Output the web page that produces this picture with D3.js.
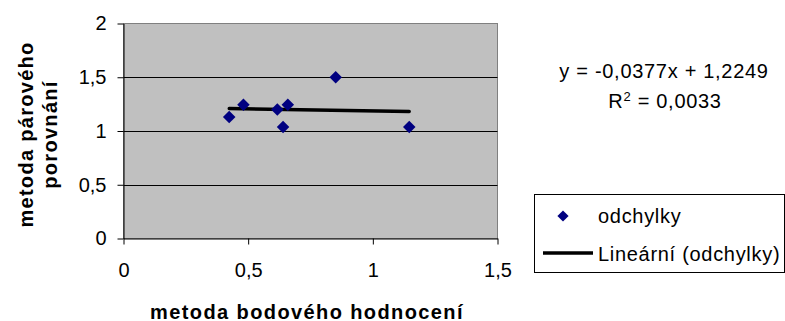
<!DOCTYPE html>
<html>
<head>
<meta charset="utf-8">
<script src="https://cdn.jsdelivr.net/npm/d3@7"></script>
<style>
  html, body { margin: 0; padding: 0; background: #fff; }
  svg { display: block; font-family: "Liberation Sans", Arial, sans-serif; }
</style>
</head>
<body>
<svg id="chart" width="785" height="321"></svg>
<script>
// Deviation pairs: point-rating method (x) vs. pairwise-comparison method (y)
const seriesName = "odchylky";
const trendName = "Lineární (odchylky)";
const xValues = [0.424, 0.481, 0.617, 0.659, 0.640, 0.851, 1.146];
const yValues = [1.13, 1.244, 1.20, 1.244, 1.037, 1.50, 1.037];
const xTicks = [0, 0.5, 1, 1.5];
const yTicks = [0, 0.5, 1, 1.5, 2];
const trendSlope = -0.0377;
const trendIntercept = 1.2249;
const rSquared = 0.0033;
const xTitle = "metoda bodového hodnocení";
const yTitleLines = ["metoda párového", "porovnání"];

const fmt = v => String(v).replace(".", ",");
const fmtCoef = v => v.toFixed(4).replace(".", ",");

const svg = d3.select("#chart");
const plot = { left: 123.5, top: 23.5, right: 497.5, bottom: 238.5 };

const x = d3.scaleLinear().domain([0, 1.5]).range([plot.left, plot.right]);
const y = d3.scaleLinear().domain([0, 2]).range([plot.bottom, plot.top]);

// plot area
svg.append("rect")
  .attr("x", plot.left).attr("y", plot.top)
  .attr("width", plot.right - plot.left).attr("height", plot.bottom - plot.top)
  .attr("fill", "#c0c0c0").attr("stroke", "#808080").attr("stroke-width", 1);

// horizontal gridlines
svg.append("g").selectAll("line")
  .data(yTicks.filter(t => t > 0 && t < 2))
  .join("line")
  .attr("x1", plot.left).attr("x2", plot.right)
  .attr("y1", d => Math.round(y(d)) + 0.5).attr("y2", d => Math.round(y(d)) + 0.5)
  .attr("stroke", "#000").attr("stroke-width", 1);

// axes
const xAxis = d3.axisBottom(x).tickValues(xTicks).tickFormat(fmt).tickSizeInner(6).tickSizeOuter(0).tickPadding(10);
const yAxis = d3.axisLeft(y).tickValues(yTicks).tickFormat(fmt).tickSizeInner(6).tickSizeOuter(0).tickPadding(10);

const gx = svg.append("g").attr("transform", `translate(0,${plot.bottom})`).call(xAxis);
const gy = svg.append("g").attr("transform", `translate(${plot.left},0)`).call(yAxis);
[gx, gy].forEach(g => {
  g.select(".domain").attr("stroke", "#000");
  g.selectAll(".tick line").attr("stroke", "#000");
  g.selectAll(".tick text")
    .attr("fill", "#000")
    .style("font-size", "20px")
    .style("font-family", "'Liberation Sans', Arial, sans-serif");
});
gy.selectAll(".tick text").attr("dx", "-1");
gx.selectAll(".tick text").attr("dy", "1.1em");

// trend line
const xs = d3.extent(xValues);
svg.append("line")
  .attr("x1", x(xs[0])).attr("y1", y(trendSlope * xs[0] + trendIntercept))
  .attr("x2", x(xs[1])).attr("y2", y(trendSlope * xs[1] + trendIntercept))
  .attr("stroke", "#000").attr("stroke-width", 3.4).attr("stroke-linecap", "round");

// data markers
const diamond = d3.symbol().type(d3.symbolDiamond2).size(100);
svg.append("g").selectAll("path")
  .data(xValues.map((v, i) => [v, yValues[i]]))
  .join("path")
  .attr("d", diamond)
  .attr("transform", d => `translate(${x(d[0])},${y(d[1])})`)
  .attr("fill", "#000080");

// axis titles
svg.append("text")
  .attr("x", 307).attr("y", 318.5)
  .attr("text-anchor", "middle")
  .style("font-size", "20px").style("font-weight", "bold").style("letter-spacing", "1.4px")
  .text(xTitle);

const yTitle = svg.append("text")
  .attr("transform", "translate(33,134.5) rotate(-90)")
  .attr("text-anchor", "middle")
  .style("font-size", "20px").style("font-weight", "bold").style("letter-spacing", "1.3px");
yTitleLines.forEach((line, i) => {
  yTitle.append("tspan").attr("x", 0).attr("dy", i === 0 ? 0 : 24).text(line);
});

// regression equation
const eq = svg.append("g").style("font-size", "20px").style("letter-spacing", "0.7px");
eq.append("text")
  .attr("x", 664).attr("y", 78).attr("text-anchor", "middle")
  .text(`y = ${fmtCoef(trendSlope)}x + ${fmtCoef(trendIntercept)}`);
const r2 = eq.append("text").attr("x", 665).attr("y", 108).attr("text-anchor", "middle");
r2.append("tspan").text("R");
r2.append("tspan").attr("dy", -7).style("font-size", "13px").text("2");
r2.append("tspan").attr("dy", 7).text(` = ${fmtCoef(rSquared)}`);

// legend
const legend = svg.append("g");
legend.append("rect")
  .attr("x", 534.5).attr("y", 194.5).attr("width", 250).attr("height", 78)
  .attr("fill", "#fff").attr("stroke", "#000").attr("stroke-width", 1);
legend.append("path")
  .attr("d", d3.symbol().type(d3.symbolDiamond2).size(80))
  .attr("transform", "translate(563,216)")
  .attr("fill", "#000080");
legend.append("line")
  .attr("x1", 543).attr("x2", 593).attr("y1", 253).attr("y2", 253)
  .attr("stroke", "#000").attr("stroke-width", 3.4);
legend.append("text").attr("x", 598).attr("y", 223)
  .style("font-size", "20px").style("letter-spacing", "0.7px").text(seriesName);
legend.append("text").attr("x", 598).attr("y", 261)
  .style("font-size", "20px").style("letter-spacing", "0.7px").text(trendName);
</script>
</body>
</html>
